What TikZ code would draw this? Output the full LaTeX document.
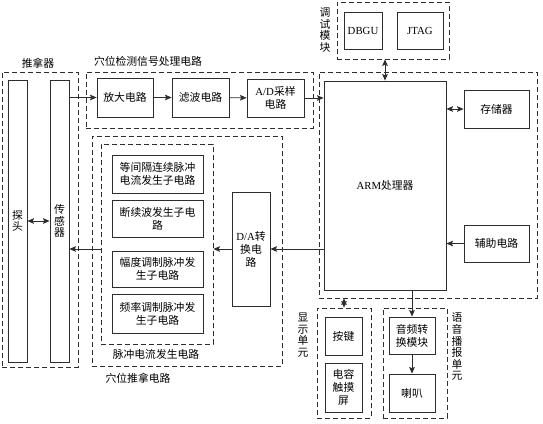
\documentclass[tikz,border=0pt]{standalone}
\usepackage{fontspec}
\setmainfont{Noto Sans CJK SC}
\newfontfamily\lat{Liberation Serif}
\usetikzlibrary{arrows, arrows.meta}
\definecolor{linegray}{RGB}{45,45,45}

\begin{document}
\begin{tikzpicture}[x=1pt, y=-1pt,
    font=\fontsize{10.8}{13}\selectfont,
    block/.style={rectangle, draw=linegray, line width=0.8pt, align=center, inner sep=1pt},
    group/.style={rectangle, draw=linegray, dash pattern=on 5pt off 3pt, line width=0.7pt},
    vlabel/.style={align=center, font=\fontsize{10.8}{11.6}\selectfont, inner sep=0pt},
    arrow/.style={-{Stealth[length=6.5pt, width=5.5pt, inset=1pt]}, line width=0.8pt, draw=linegray},
    biarrow/.style={{Stealth[length=6.5pt, width=5.5pt, inset=1pt]}-{Stealth[length=6.5pt, width=5.5pt, inset=1pt]}, line width=0.8pt, draw=linegray}]

    \useasboundingbox (0,0) rectangle (543,423);

    % dashed groups
    \node[group, minimum width=76pt, minimum height=295pt] (tuinaqi) at (40,219.5) {};
    \node[group, minimum width=227pt, minimum height=56pt] (detect) at (199.5,100) {};
    \node[group, minimum width=218pt, minimum height=226pt] (armgroup) at (428,185) {};
    \node[group, minimum width=112pt, minimum height=57pt] (debug) at (393,30.5) {};
    \node[group, minimum width=190pt, minimum height=230pt] (tuina) at (187,251) {};
    \node[group, minimum width=112pt, minimum height=200pt] (pulse) at (157,244) {};
    \node[group, minimum width=54pt, minimum height=110pt] (display) at (344,363) {};
    \node[group, minimum width=64pt, minimum height=110pt] (voice) at (415,363) {};

    % group labels
    \node (tuinaqilabel) at (38,63) {推拿器};
    \node (detectlabel) at (148,61) {穴位检测信号处理电路};
    \node[vlabel] (debuglabel) at (325,30) {调\\试\\模\\块};
    \node (pulselabel) at (156,354) {脉冲电流发生电路};
    \node (tuinalabel) at (138,378) {穴位推拿电路};
    \node[vlabel] (displaylabel) at (303,335) {显\\示\\单\\元};
    \node[vlabel] (voicelabel) at (457,347) {语\\音\\播\\报\\单\\元};

    % blocks
    \node[block, vlabel, draw, minimum width=19pt, minimum height=282pt] (tantou) at (17.5,221) {探\\头};
    \node[block, vlabel, draw, minimum width=19pt, minimum height=282pt] (sensor) at (59.5,221) {传\\感\\器};
    \node[block, minimum width=56pt, minimum height=39pt] (amp) at (125,97.5) {放大电路};
    \node[block, minimum width=57pt, minimum height=39pt] (filter) at (200.5,97.5) {滤波电路};
    \node[block, minimum width=57pt, minimum height=38pt] (adc) at (275.5,98) {{\lat A/D}采样\\电路};
    \node[block, minimum width=122pt, minimum height=209pt] (arm) at (385,185.5) {{\lat ARM}处理器};
    \node[block, minimum width=38pt, minimum height=37pt] (dbgu) at (363,30.5) {\lat DBGU};
    \node[block, minimum width=46pt, minimum height=37pt] (jtag) at (420,30.5) {\lat JTAG};
    \node[block, minimum width=65pt, minimum height=38pt] (memory) at (496.5,109) {存储器};
    \node[block, minimum width=65pt, minimum height=37pt] (aux) at (496.5,243.5) {辅助电路};
    \node[block, minimum width=91pt, minimum height=38pt] (sub1) at (157.5,174) {等间隔连续脉冲\\电流发生子电路};
    \node[block, minimum width=91pt, minimum height=37pt] (sub2) at (157.5,218.5) {断续波发生子电\\路};
    \node[block, minimum width=91pt, minimum height=36pt] (sub3) at (157.5,269) {幅度调制脉冲发\\生子电路};
    \node[block, minimum width=91pt, minimum height=39pt] (sub4) at (157.5,313.5) {频率调制脉冲发\\生子电路};
    \node[block, minimum width=38pt, minimum height=114pt] (dac) at (251,249) {{\lat D/A}转\\换电\\路};
    \node[block, minimum width=37pt, minimum height=38pt] (key) at (343.5,336) {按键};
    \node[block, minimum width=37pt, minimum height=49pt] (touch) at (343.5,387.5) {电容\\触摸\\屏};
    \node[block, minimum width=46pt, minimum height=37pt] (audio) at (412,335.5) {音频转\\换模块};
    \node[block, minimum width=46pt, minimum height=38pt] (speaker) at (412,393) {喇叭};

    % connectors
    \draw[biarrow] (tantou) -- (sensor);
    \draw[arrow] (sensor.east |- amp.west) -- (amp.west);
    \draw[arrow] (amp) -- (filter);
    \draw[arrow] (filter) -- (adc);
    \draw[arrow] (adc.east) -- (arm.west |- adc.east);
    \draw[biarrow] (arm.north) -- (arm.north |- debug.south);
    \draw[biarrow] (arm.east |- memory.west) -- (memory.west);
    \draw[arrow] (aux.west) -- (arm.east |- aux.west);
    \draw[arrow] (arm.west |- dac.east) -- (dac.east);
    \draw[arrow] (dac.west) -- (pulse.east |- dac.west);
    \draw[arrow] (pulse.west |- dac.west) -- (sensor.east |- dac.west);
    \draw[biarrow] (display.north) -- (display.north |- armgroup.south);
    \draw[arrow] (arm.south -| audio.north) -- (audio.north);
    \draw[arrow] (audio) -- (speaker);
\end{tikzpicture}
\end{document}
